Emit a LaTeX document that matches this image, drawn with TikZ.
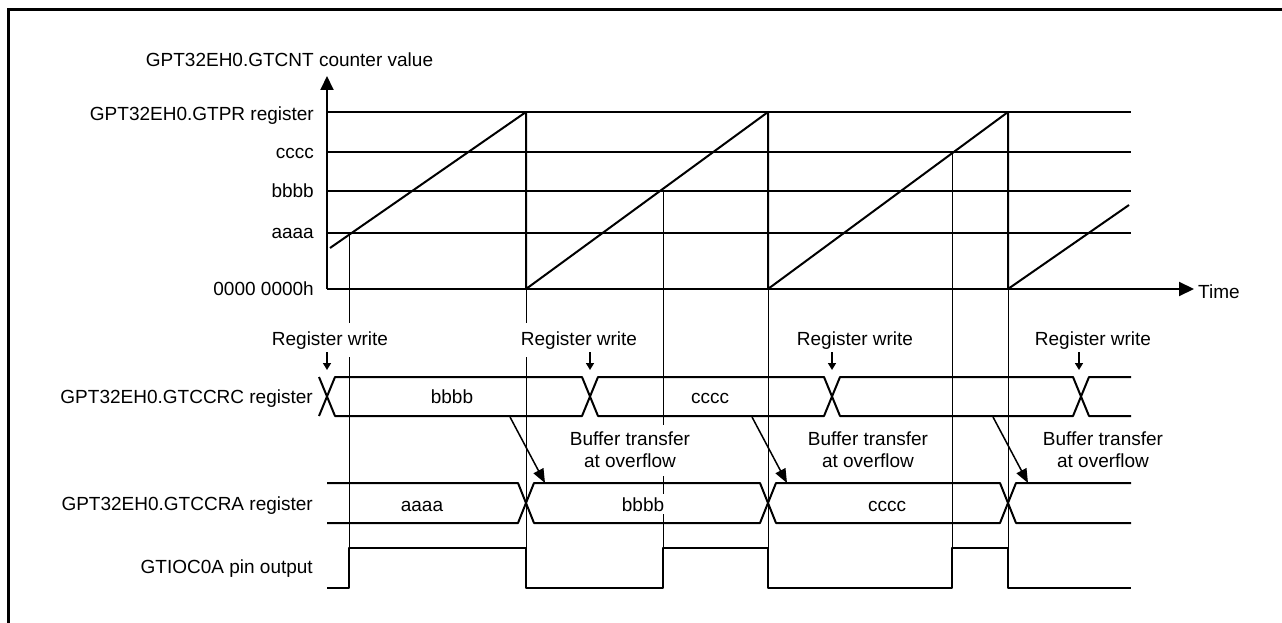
\documentclass[tikz,border=0pt]{standalone}
\usepackage{fontspec}
\setmainfont{Liberation Sans}
\usetikzlibrary{arrows.meta}
\begin{document}
\begin{tikzpicture}[x=1pt,y=-1pt,
  every node/.style={font=\fontsize{19}{23}\selectfont, inner sep=0pt},
  lbl/.style={anchor=base east},
  txt/.style={anchor=base},
  wave/.style={line width=2pt, line join=bevel},
  guide/.style={line width=1pt},
  buftip/.style={line width=1.5pt,-{Triangle[length=14pt,width=11pt]}},
  rwtip/.style={line width=1.6pt,-{Triangle[length=7pt,width=8pt]}},
  rwbox/.style={anchor=base, fill=white, inner xsep=3pt, inner ysep=8.5pt},
  valbox/.style={anchor=base, fill=white, inner xsep=4pt, inner ysep=3pt},
  bufa/.style={anchor=base, fill=white, inner xsep=2pt, inner ysep=6pt},
  bufb/.style={anchor=base, fill=white, inner xsep=2pt, inner ysep=9pt}
]
\useasboundingbox (0,0) rectangle (1282,623);
% frame
\draw[line width=3pt] (8.5,623) -- (8.5,9.5) -- (1282,9.5);

% guide lines
\draw[guide] (349,233) -- (349,588);
\draw[guide] (526,289) -- (526,588);
\draw[guide] (663,191) -- (663,588);
\draw[guide] (768,289) -- (768,588);
\draw[guide] (952,152) -- (952,588);
\draw[guide] (1008,289) -- (1008,588);

% axes
\coordinate (O) at (327,289);
\coordinate (Ytop) at (327,76);
\coordinate (Xend) at (1194,289);
\draw[wave,-{Triangle[length=14pt,width=13pt]}] (O) -- (Ytop);
\draw[wave,-{Triangle[length=15pt,width=14pt]}] (O) -- (Xend);
\node[anchor=base west] (time) at (1198,298) {Time};

% level lines
\foreach \yy in {112,152,191,233} \draw[wave] (327,\yy) -- (1131,\yy);

% level labels
\node[txt] (title) at (289.5,67) {GPT32EH0.GTCNT counter value};
\node[lbl] (lpr) at (314,121) {GPT32EH0.GTPR register};
\node[lbl] (lc) at (314,158) {cccc};
\node[lbl] (lb) at (314,197) {bbbb};
\node[lbl] (la) at (314,238) {aaaa};
\node[lbl] (lz) at (314,295) {0000 0000h};

% counter
\draw[wave] (330,248) -- (526,112) -- (526,289) -- (768,112) -- (768,289)
  -- (1008,112) -- (1008,289) -- (1129,205);

% GTCCRC bus
\draw[wave] (319,377) -- (335,416) -- (582,416) -- (598,377) -- (824,377)
  -- (840,416) -- (1073,416) -- (1089,377) -- (1131,377);
\draw[wave] (319,416) -- (335,377) -- (582,377) -- (598,416) -- (824,416)
  -- (840,377) -- (1073,377) -- (1089,416) -- (1131,416);
\node[lbl] (ccrc) at (313,403) {GPT32EH0.GTCCRC register};
\node[valbox] (cb) at (452,403) {bbbb};
\node[valbox] (cc) at (710,403) {cccc};

% GTCCRA bus
\draw[wave] (327,483) -- (518,483) -- (534,523) -- (760,523) -- (776,483)
  -- (1000,483) -- (1016,523) -- (1131,523);
\draw[wave] (327,523) -- (518,523) -- (534,483) -- (760,483) -- (776,523)
  -- (1000,523) -- (1016,483) -- (1131,483);
\node[lbl] (ccra) at (313,510) {GPT32EH0.GTCCRA register};
\node[valbox] (aa) at (422,511) {aaaa};
\node[valbox] (ab) at (643,511) {bbbb};
\node[valbox] (ac) at (887,511) {cccc};

% GTIOC0A
\draw[wave] (327,588) -- (349,588) -- (349,548) -- (526,548) -- (526,588)
  -- (663,588) -- (663,548) -- (768,548) -- (768,588) -- (952,588)
  -- (952,548) -- (1008,548) -- (1008,588) -- (1131,588);
\node[lbl] (pin) at (313,573) {GTIOC0A pin output};

% register writes
\node[rwbox] (rw1) at (330,345) {Register write};
\node[rwbox] (rw2) at (579,345) {Register write};
\node[rwbox] (rw3) at (855,345) {Register write};
\node[rwbox] (rw4) at (1093,345) {Register write};
\coordinate (rw1s) at (327,352); \coordinate (rw1e) at (327,370);
\coordinate (rw2s) at (590,352); \coordinate (rw2e) at (590,370);
\coordinate (rw3s) at (832,352); \coordinate (rw3e) at (832,370);
\coordinate (rw4s) at (1079,352); \coordinate (rw4e) at (1079,370);
\draw[rwtip] (rw1s) -- (rw1e);
\draw[rwtip] (rw2s) -- (rw2e);
\draw[rwtip] (rw3s) -- (rw3e);
\draw[rwtip] (rw4s) -- (rw4e);

% buffer transfers
\node[bufb] (bt1b) at (630,467) {at overflow};
\node[bufa] (bt1a) at (630,445) {Buffer transfer};
\node[bufb] (bt2b) at (868,467) {at overflow};
\node[bufa] (bt2a) at (868,445) {Buffer transfer};
\node[bufb] (bt3b) at (1103,467) {at overflow};
\node[bufa] (bt3a) at (1103,445) {Buffer transfer};
\coordinate (b1s) at (510,417); \coordinate (b1e) at (545,483);
\coordinate (b2s) at (752,417); \coordinate (b2e) at (787,483);
\coordinate (b3s) at (993,417); \coordinate (b3e) at (1028,483);
\draw[buftip] (b1s) -- (b1e);
\draw[buftip] (b2s) -- (b2e);
\draw[buftip] (b3s) -- (b3e);
\end{tikzpicture}
\end{document}
